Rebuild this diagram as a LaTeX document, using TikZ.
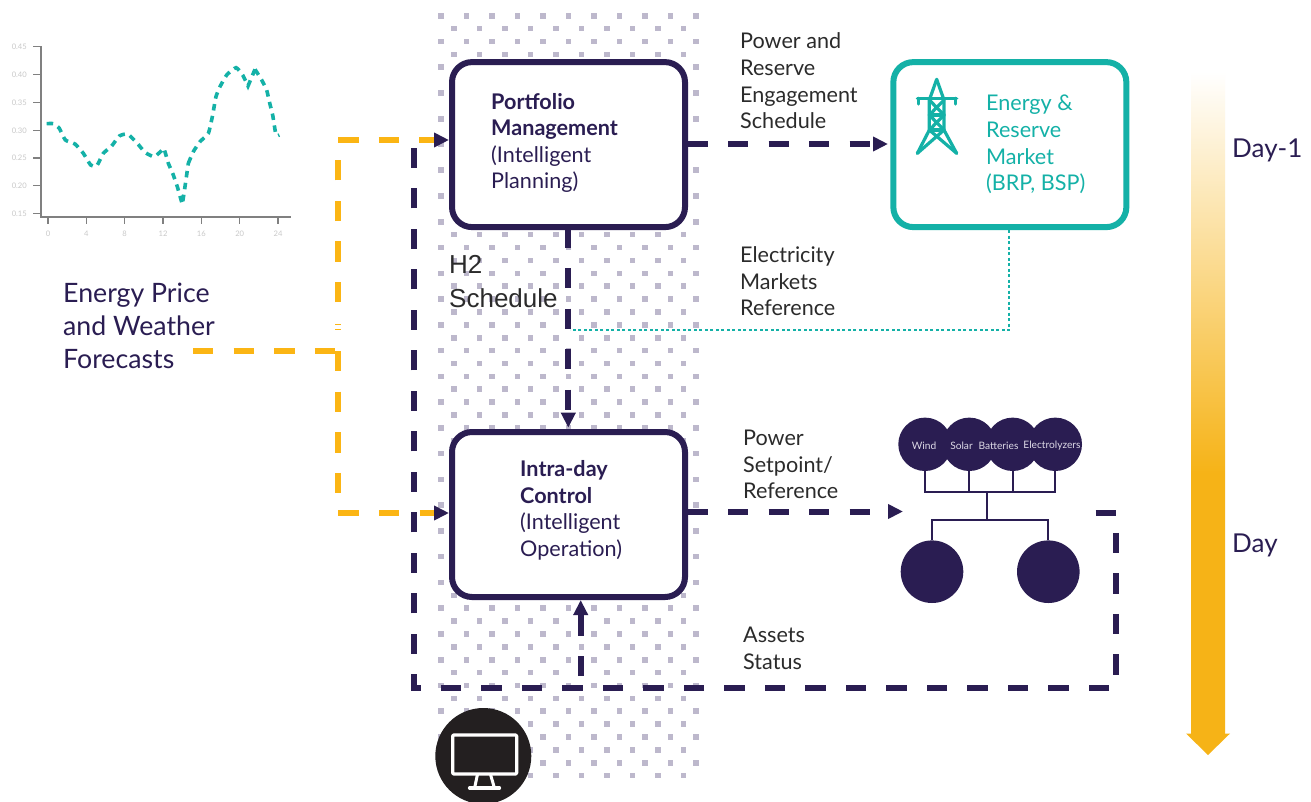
\documentclass[tikz,border=0pt]{standalone}
\usepackage{fontspec}
\setmainfont{Lato}
\newfontfamily\hfont{Liberation Sans}
\usetikzlibrary{arrows.meta,calc}
\definecolor{navy}{HTML}{2A1D52}
\definecolor{yel}{HTML}{FBB514}
\definecolor{timey}{HTML}{F6B317}
\definecolor{teal2}{HTML}{14B1A7}
\definecolor{dotc}{HTML}{BDB8CC}
\definecolor{ink}{HTML}{2B2B2B}
\definecolor{axisc}{HTML}{808080}
\definecolor{tickc}{HTML}{C9C9C9}
\definecolor{night}{HTML}{231F20}
\definecolor{assetlab}{HTML}{DDD9E6}
\pgfdeclareverticalshading{timefade}{100bp}{color(0bp)=(timey); color(25bp)=(timey); color(44.7bp)=(timey); color(75bp)=(white); color(100bp)=(white)}
\tikzset{
  box/.style={draw=#1,line width=6pt,rounded corners=20pt,fill=white,minimum width=233pt,minimum height=165pt,inner sep=0pt},
  dashnavy/.style={draw=navy,line width=6pt,dash pattern=on 20.2pt off 20.3pt},
  dashyel/.style={draw=yel,line width=6pt,dash pattern=on 20.3pt off 20.3pt},
  tipnavy/.style={-{Triangle[length=15pt,width=14pt,color=navy,sep=0pt]}},
  lab/.style={anchor=west,inner sep=0pt,align=left,font=\fontsize{21.6}{26.6}\selectfont,text=ink},
  boxlab/.style={anchor=west,inner sep=0pt,align=left,font=\fontsize{21.6}{26.6}\selectfont,text=navy},
  biglab/.style={anchor=west,inner sep=0pt,align=left,font=\fontsize{26.7}{33.3}\selectfont,text=navy},
  dotcell/.style={fill=dotc},
  assetsmall/.style={circle,fill=navy,minimum size=53.4pt,inner sep=0pt},
  assettext/.style={text=assetlab,font=\fontsize{10.2}{12}\selectfont,inner sep=0pt},
  assetbig/.style={circle,fill=navy,minimum size=62.6pt,inner sep=0pt},
  wire/.style={draw=navy,line width=1.8pt},
  ticklab/.style={inner sep=0pt,text=tickc,font=\fontsize{7.6}{9}\selectfont},
  axisline/.style={draw=axisc,line width=1.5pt}
}
\begin{document}
\begin{tikzpicture}[x=1pt,y=-1pt]
\useasboundingbox (0,0) rectangle (1311,801);
\fill[white] (0,0) rectangle (1311,801);
% dotted band
\foreach \r in {0,...,59}{
  \pgfmathsetmacro{\yy}{15.7+12.88*\r}
  \pgfmathsetmacro{\odd}{mod(\r,2)}
  \ifdim\odd pt<0.5pt
    \foreach \c in {0,...,10}{
      \pgfmathsetmacro{\xx}{441+25.5*\c}
      \fill[dotcell] (\xx-2.8,\yy-2.8) rectangle (\xx+2.8,\yy+2.8);
    }
  \else
    \foreach \c in {0,...,9}{
      \pgfmathsetmacro{\xx}{454+25.5*\c}
      \fill[dotcell] (\xx-2.8,\yy-2.8) rectangle (\xx+2.8,\yy+2.8);
    }
  \fi
}
% chart
\draw[axisline] (33,46.7) -- (41,46.7) -- (41,217) -- (291,217);
\foreach \yy/\t in {46.7/0.45,74.7/0.40,102.3/0.35,130.3/0.30,158/0.25,185.7/0.20,213.7/0.15}{
  \draw[axisline] (33,\yy) -- (41,\yy);
  \node[ticklab,anchor=east] at (27,\yy) {\t};
}
\foreach \xx/\t in {48/0,86.3/4,124.7/8,163/12,201.3/16,239.7/20,278/24}{
  \draw[axisline] (\xx,217) -- (\xx,224);
  \node[ticklab] at (\xx,234) {\t};
}
\begin{scope}[shift={(0,30)},x=0.33333pt,y=-0.33333pt]
\draw[teal2,line width=3.6pt,dash pattern=on 6.5pt off 5.5pt]
 plot[smooth,tension=0.3] coordinates {(140,281)(160,281)(178,295)(196,330)(225,342)(250,370)(272,405)(290,408)(310,370)(335,348)(358,318)(383,312)(412,340)(435,367)(463,380)(492,355)}
 -- (505,400) -- (520,435) -- (532,470) -- (547,523)
 -- (555,470) -- (565,400)
 plot[smooth,tension=0.3] coordinates {(565,400)(580,365)(600,335)(625,310)(637,260)(648,200)(660,170)(680,135)(708,113)(728,135)(744,168)}
 -- (765,118)
 plot[smooth,tension=0.3] coordinates {(765,118)(785,150)(800,180)(808,215)(818,255)(828,315)(838,315)};
\end{scope}
% boxes
\node[box=navy] (pf) at (568.5,144.6) {};
\node[box=navy] (id) at (568.5,514.5) {};
\node[box=teal2] (mk) at (1009.85,144.6) {};
\node[boxlab] (pft) at (491,143) {\textbf{Portfolio}\\\textbf{Management}\\(Intelligent\\Planning)};
\node[boxlab] (idt) at (520,510.5) {\textbf{Intra-day}\\\textbf{Control}\\(Intelligent\\Operation)};
\node[anchor=west,inner sep=0pt,align=left,font=\fontsize{21.6}{26.6}\selectfont,text=teal2] (mkt) at (986,144.5) {Energy \&\\Reserve\\Market\\(BRP, BSP)};
% pylon
\begin{scope}[shift={(880,50)},x=0.33333pt,y=-0.33333pt,draw=teal2,line width=3.2pt,line cap=round,line join=round]
\draw (170,88) -- (148,150) -- (148,240) -- (112,310);
\draw (170,88) -- (192,150) -- (192,240) -- (230,310);
\draw (112,145) -- (230,145);
\draw (115,145) -- (115,162) (227,145) -- (227,162);
\draw (148,195) -- (192,195) (148,240) -- (192,240);
\draw (148,150) -- (192,195) (192,150) -- (148,195);
\draw (148,195) -- (192,240) (192,195) -- (148,240);
\draw (192,240) -- (112,310) (148,240) -- (230,310);
\end{scope}
% assets
\node[assetsmall] (wind) at (925,444.3) {};
\node[assetsmall] (solar) at (969.3,444.3) {};
\node[assetsmall] (batt) at (1012.7,444.3) {};
\node[assetsmall] (elec) at (1055.3,444.3) {};
\node[assettext] (windt) at (924,445.5) {Wind};
\node[assettext] (solart) at (961.5,445.5) {Solar};
\node[assettext] (battt) at (998.5,445.5) {Batteries};
\node[assettext] (elect) at (1052,445.5) {Electrolyzers};
\node[assetbig] (a1) at (932,571.7) {};
\node[assetbig] (a2) at (1048.3,571.7) {};
\coordinate (bus1) at (987,491.7);
\coordinate (bus2) at (987,519.7);
\draw[wire] (wind.south) -- (wind.south |- bus1) -- (elec.south |- bus1) -- (elec.south);
\draw[wire] (solar.south) -- (solar.south |- bus1);
\draw[wire] (batt.south) -- (batt.south |- bus1);
\draw[wire] (bus1) -- (bus2);
\draw[wire] (a1.north) -- (a1.north |- bus2) -- (a2.north |- bus2) -- (a2.north);
% yellow connectors
\node[biglab] (fc) at (63,326) {Energy Price\\and Weather\\Forecasts};
\coordinate (ys) at (193,351);
\coordinate (ye) at (335,351);
\coordinate (yc) at (338,351);
\coordinate (yd) at (338,513);
\coordinate (yt) at (338,322);
\coordinate (yu) at (338,140);
\draw[dashyel] (ys) -- (ye);
\draw[dashyel,tipnavy] (yc) -- (yd) -- (id.west |- yd);
\draw[dashyel,dash phase=20.8pt,tipnavy] (yt) -- (yu) -- (pf.west |- yu);
\draw[yel,line width=1pt] (335,324) -- (341,324) (335,329) -- (341,329);
% navy connectors
\coordinate (n1) at (1095.7,513);
\coordinate (n2) at (1116.3,513);
\coordinate (n3) at (1116.3,687.7);
\coordinate (n4) at (414,687.7);
\coordinate (n5) at (414,145);
\draw[dashnavy] (n1) -- (n2) -- (n3) -- (n4) -- (n5);
\coordinate (up) at (580.7,676);
\draw[dashnavy,tipnavy] (up) -- (id.south -| up);
\coordinate (d1) at (568.3,227.7);
\coordinate (d2) at (568.3,427.7);
\draw[dashnavy,tipnavy] (d1) -- (d2);
\coordinate (m1) at (687.5,144);
\coordinate (m2) at (888,144);
\draw[dashnavy,tipnavy] (m1) -- (m2);
\coordinate (s1) at (687.5,511.5);
\coordinate (s2) at (903,511.5);
\draw[dashnavy,tipnavy] (s1) -- (s2);
% teal dotted
\coordinate (t1) at (1009,230);
\coordinate (t2) at (1009,330);
\coordinate (t3) at (570,330);
\draw[teal2,line width=2pt,dash pattern=on 3pt off 2.5pt] (t1) -- (t2) -- (t3);
% labels
\node[lab] (l1) at (740,81) {Power and\\Reserve\\Engagement\\Schedule};
\node[lab] (l2) at (740,281.5) {Electricity\\Markets\\Reference};
\node[lab] (l3) at (743,464.5) {Power\\Setpoint/\\Reference};
\node[lab] (l4) at (743,648.5) {Assets\\Status};
\node[anchor=west,inner sep=0pt,align=left,font=\hfont\fontsize{26}{34}\selectfont,text=ink] (h2) at (449,281.5) {H2\\Schedule};
% time arrow
\shade[shading=timefade] (1191,72) rectangle (1225,734);
\fill[timey] (1186,733.5) -- (1230,733.5) -- (1208,755) -- cycle;
\node[anchor=west,inner sep=0pt,text=navy,font=\fontsize{26}{33}\selectfont] (d1l) at (1232,150) {Day-1};
\node[anchor=west,inner sep=0pt,text=navy,font=\fontsize{26}{33}\selectfont] (d2l) at (1232,545) {Day};
% operator icon
\node[circle,fill=night,minimum size=96pt,inner sep=0pt] (op) at (483.3,756) {};
\begin{scope}[shift={(400,600)},x=0.33333pt,y=-0.33333pt,draw=white,line join=round,line cap=round]
\draw[line width=3.2pt,rounded corners=1pt] (158,405) rectangle (350,522);
\draw[line width=3pt] (232,525) -- (224,563) (272,525) -- (283,563);
\draw[line width=3.6pt] (209,564) -- (298,564);
\end{scope}
\end{tikzpicture}
\end{document}
